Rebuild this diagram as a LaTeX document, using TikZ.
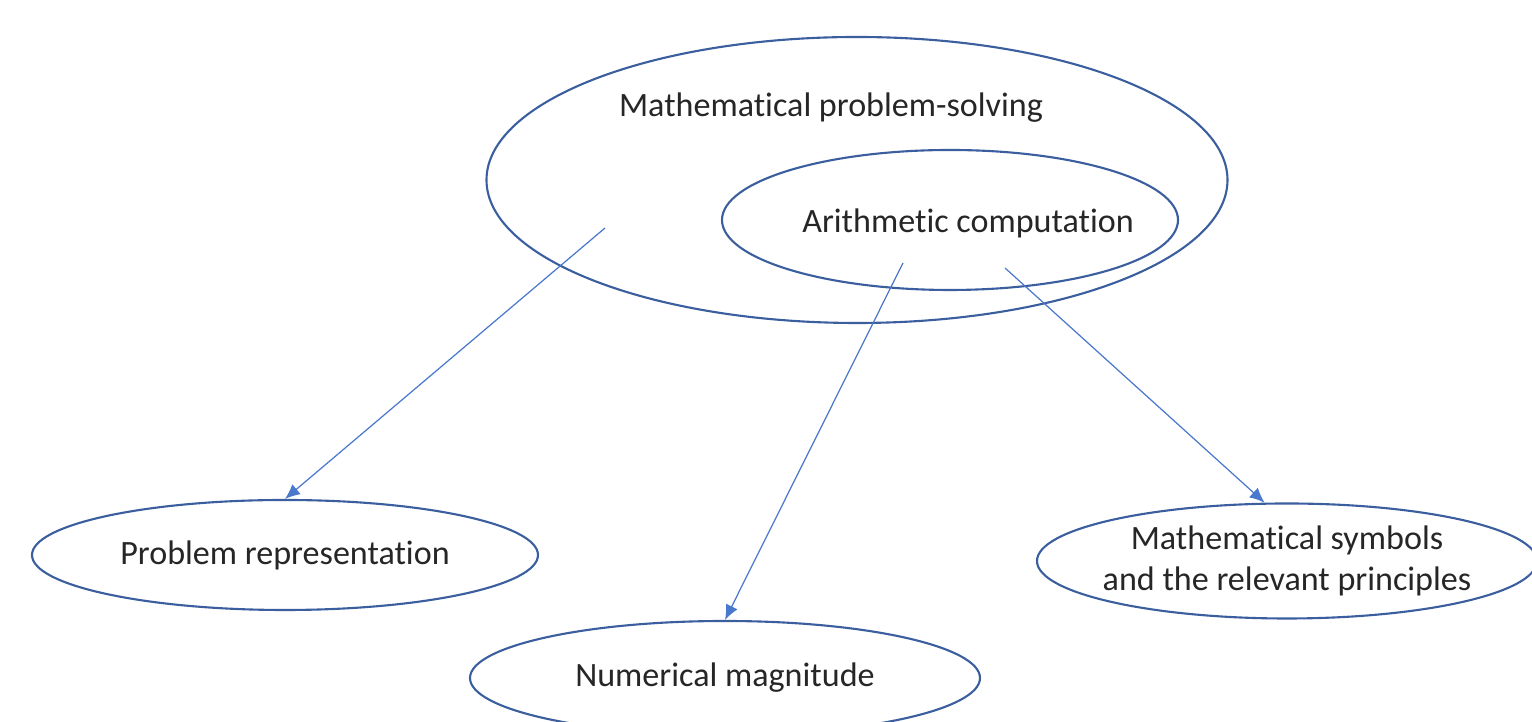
\documentclass[tikz,border=0pt]{standalone}
\usepackage{fontspec}
\setmainfont{Carlito}[Ligatures=NoCommon]
\usetikzlibrary{shapes.geometric,arrows.meta}
\definecolor{ringblue}{HTML}{3A5E9E}
\definecolor{linkblue}{HTML}{4A78CC}

\begin{document}
\begin{tikzpicture}[
    ring/.style={draw=ringblue, line width=0.6pt, ellipse, inner sep=0pt},
    word/.style={text=black!85, font=\fontsize{9.7}{11.6}\selectfont, align=center},
    link/.style={draw=linkblue, line width=0.35pt, -{Latex[length=1.5mm,width=1.3mm]}}
]
    \useasboundingbox (0,0) rectangle (15.32,7.22);

    % Draw the two top ellipses
    \node[ring, minimum width=7.41cm, minimum height=2.86cm] (mps) at (8.57,5.42) {};
    \node[ring, minimum width=4.56cm, minimum height=1.40cm] (arith) at (9.50,5.02) {};
    \node[word] (mpstext) at (8.31,6.14) {Mathematical problem-solving};
    \node[word] (arithtext) at (9.68,4.99) {Arithmetic computation};

    % Draw the three bottom ellipses
    \node[ring, word, minimum width=5.06cm, minimum height=1.10cm] (prob) at (2.85,1.67)
        {Problem representation};
    \node[ring, word, minimum width=5.10cm, minimum height=1.14cm] (num) at (7.25,0.44)
        {Numerical magnitude};
    \node[ring, word, inner xsep=-0.08cm, minimum width=5.00cm, minimum height=1.15cm] (sym) at (12.87,1.61)
        {Mathematical symbols\\and the relevant principles};

    % Arrows
    \coordinate (s1) at (6.05,4.94);
    \coordinate (s2) at (9.03,4.59);
    \coordinate (s3) at (10.05,4.54);
    \draw[link] (s1) -- (prob.north);
    \draw[link] (s2) -- (num.north);
    \draw[link] (s3) -- (sym.111);

\end{tikzpicture}
\end{document}
